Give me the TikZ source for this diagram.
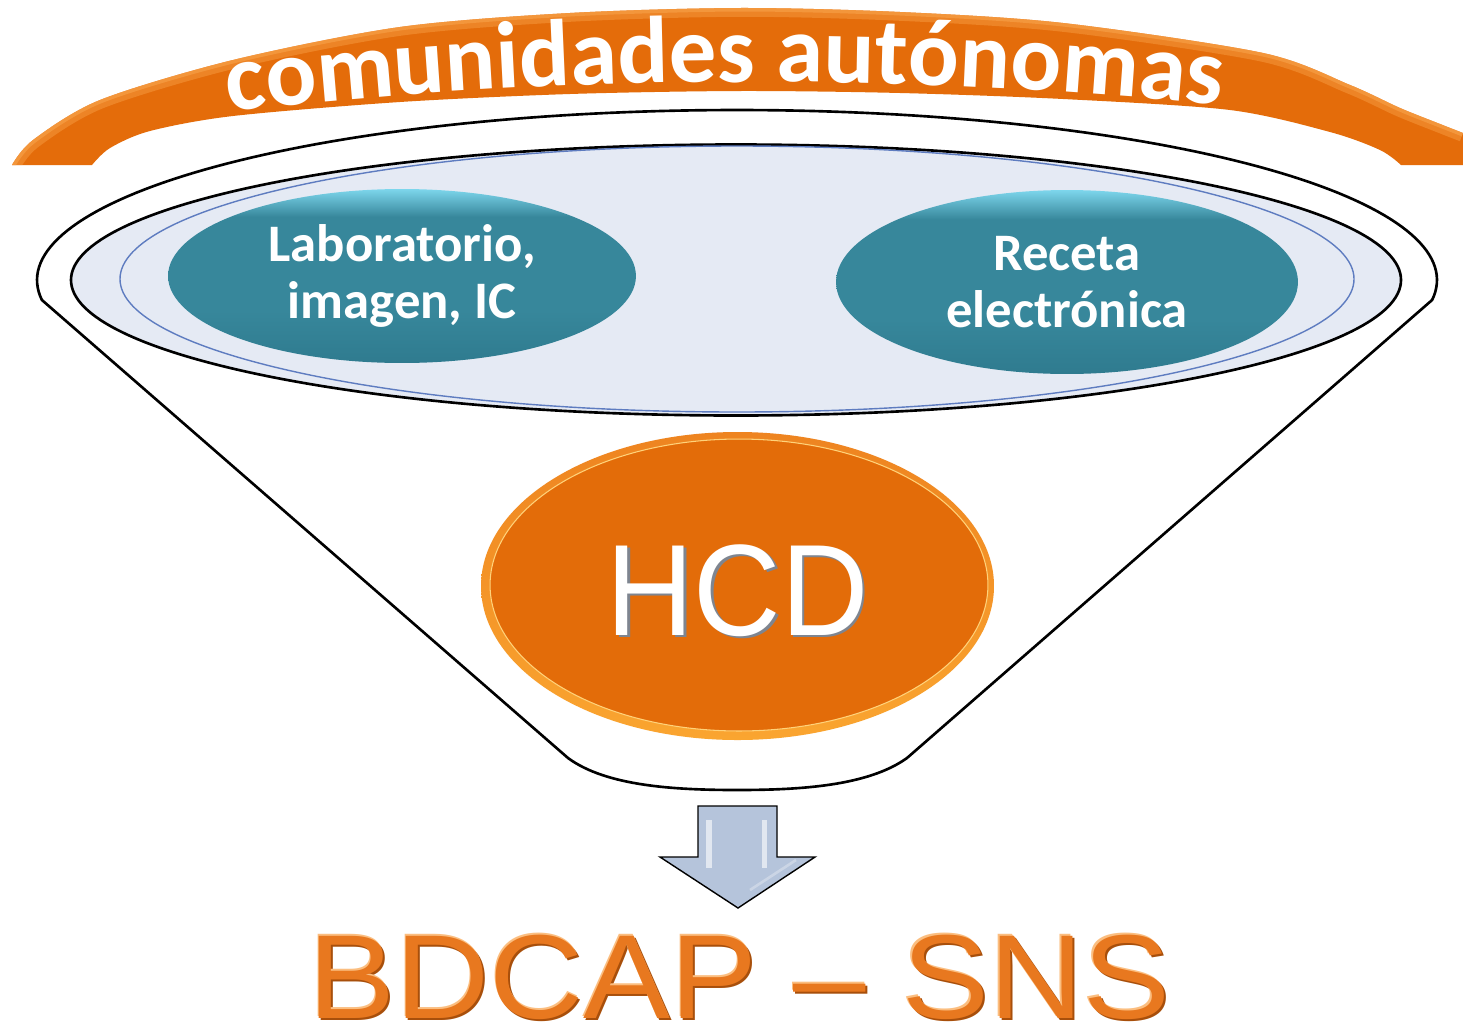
\documentclass[tikz,border=0pt]{standalone}
\usepackage{fontspec}
\usepackage{graphicx}
\usetikzlibrary{shapes.geometric,decorations.text}
\newfontfamily\fcal{Carlito}
\newfontfamily\fari{Liberation Sans}
\definecolor{bandOr}{HTML}{E46C0A}
\definecolor{bandLight}{HTML}{F8A24A}
\definecolor{rimFill}{HTML}{E5EAF4}
\definecolor{blueLine}{HTML}{5E7CC0}
\definecolor{tealM}{HTML}{37879B}
\definecolor{tealL}{HTML}{7DD6EC}
\definecolor{tealD}{HTML}{2F7B8F}
\definecolor{hcdOr}{HTML}{E36C09}
\definecolor{hcdRimT}{HTML}{EE8420}
\definecolor{hcdRimB}{HTML}{FAA530}
\definecolor{hcdRing}{HTML}{FFD27A}
\definecolor{hcdShadow}{HTML}{7E8590}
\definecolor{arrowFill}{HTML}{B5C4DB}
\definecolor{bdOr}{HTML}{E8781F}
\definecolor{bdDark}{HTML}{A84F0B}
\definecolor{bdLight}{HTML}{FBBE80}
\pgfdeclareverticalshading{tealsh}{100bp}{color(0bp)=(tealD); color(25bp)=(tealD); color(40bp)=(tealM); color(67bp)=(tealM); color(75bp)=(tealL); color(100bp)=(tealL)}
\tikzset{
  outline/.style={line width=1.5pt, black},
  tealbox/.style={ellipse, inner sep=0pt, shade, shading=tealsh, text=white, align=center,
    font=\fcal\bfseries\fontsize{30}{32}\selectfont},
  bdtext/.style={anchor=base, font=\fari\fontsize{68}{72}\selectfont},
  hcdtext/.style={anchor=base, font=\fari\fontsize{74}{80}\selectfont}
}
\begin{document}
\begin{tikzpicture}[x=0.02cm,y=-0.02cm]
\fill[white] (0,0) rectangle (1463,1028);
\useasboundingbox (0,0) rectangle (1463,1028);

% orange band
\def\bandtop{plot[smooth] coordinates {(12,165) (33,140) (100,100) (233,60) (400,27) (570,13) (740,8) (900,12) (1063,23) (1263,53) (1350,85) (1400,108) (1440,124) (1463,133)}}
\def\bandpath{\bandtop -- (1463,165) -- plot[smooth] coordinates {(1401,165) (1380,150) (1330,132) (1230,110) (1063,99) (900,93) (740,91) (570,94) (400,102) (233,116) (150,131) (110,148) (92,165)} -- cycle}
\fill[bandOr] \bandpath;
\begin{scope}
\clip \bandpath;
\draw[bandLight, line width=10pt, opacity=.45] \bandtop;
\draw[bandLight, line width=4pt, opacity=.6] \bandtop;
\end{scope}

% funnel
\draw[outline, fill=white] plot[domain=186.75:-6.75, samples=140, variable=\t] ({737+700*cos(\t)},{280-170*sin(\t)}) -- (907,758) .. controls (868,786) and (800,790) .. (737,790) .. controls (674,790) and (606,786) .. (568,758) -- cycle;
\draw[outline, fill=rimFill] (736,280) ellipse [x radius=665, y radius=135.5];
\draw[blueLine, line width=0.8pt] (737,279) ellipse [x radius=617, y radius=133];

% teal ellipses
\node[tealbox, minimum width=9.36cm, minimum height=3.48cm] (lab) at (402,276) {Laboratorio,\\imagen, IC};
\node[tealbox, minimum width=9.24cm, minimum height=3.68cm] (rec) at (1067,282) {Receta\\electrónica};

% HCD
\shade[top color=hcdRimT, bottom color=hcdRimB] (737.5,586) ellipse [x radius=256.5, y radius=154];
\node[ellipse, fill=hcdOr, draw=hcdRing, line width=0.6pt, inner sep=0pt, minimum width=9.96cm, minimum height=5.84cm] (hcd) at (739,585) {};
\node[hcdtext, text=hcdShadow] at (740,637) {\scalebox{0.93}[1]{HCD}};
\node[hcdtext, text=white] (hcdlabel) at (737.5,635) {\scalebox{0.93}[1]{HCD}};

% arrow
\draw[line width=0.8pt, fill=arrowFill] (698,806) -- (777,806) -- (777,857) -- (815,857) -- (738,908) -- (660,857) -- (698,857) -- cycle;
\fill[white, opacity=.6] (706,820) rectangle (712,868);
\fill[white, opacity=.6] (762,820) rectangle (767,868);
\draw[white, opacity=.3, line width=1.5pt] (750,890) -- (796,860);

% BDCAP - SNS
\node[bdtext, text=bdDark] at (741.5,1020) {\scalebox{1.09}[1]{BDCAP – SNS}};
\node[bdtext, text=bdLight] at (738,1016.5) {\scalebox{1.09}[1]{BDCAP – SNS}};
\node[bdtext, text=bdOr] (bdcap) at (739.5,1018) {\scalebox{1.09}[1]{BDCAP – SNS}};

% title along arc
\path[decorate, decoration={text along path, text align=center, text color=white,
  text={|\fcal\bfseries\fontsize{54}{60}\selectfont|comunidades autónomas}}]
  (150,122) .. controls (520,70) and (950,70) .. (1300,114);
\end{tikzpicture}
\end{document}
